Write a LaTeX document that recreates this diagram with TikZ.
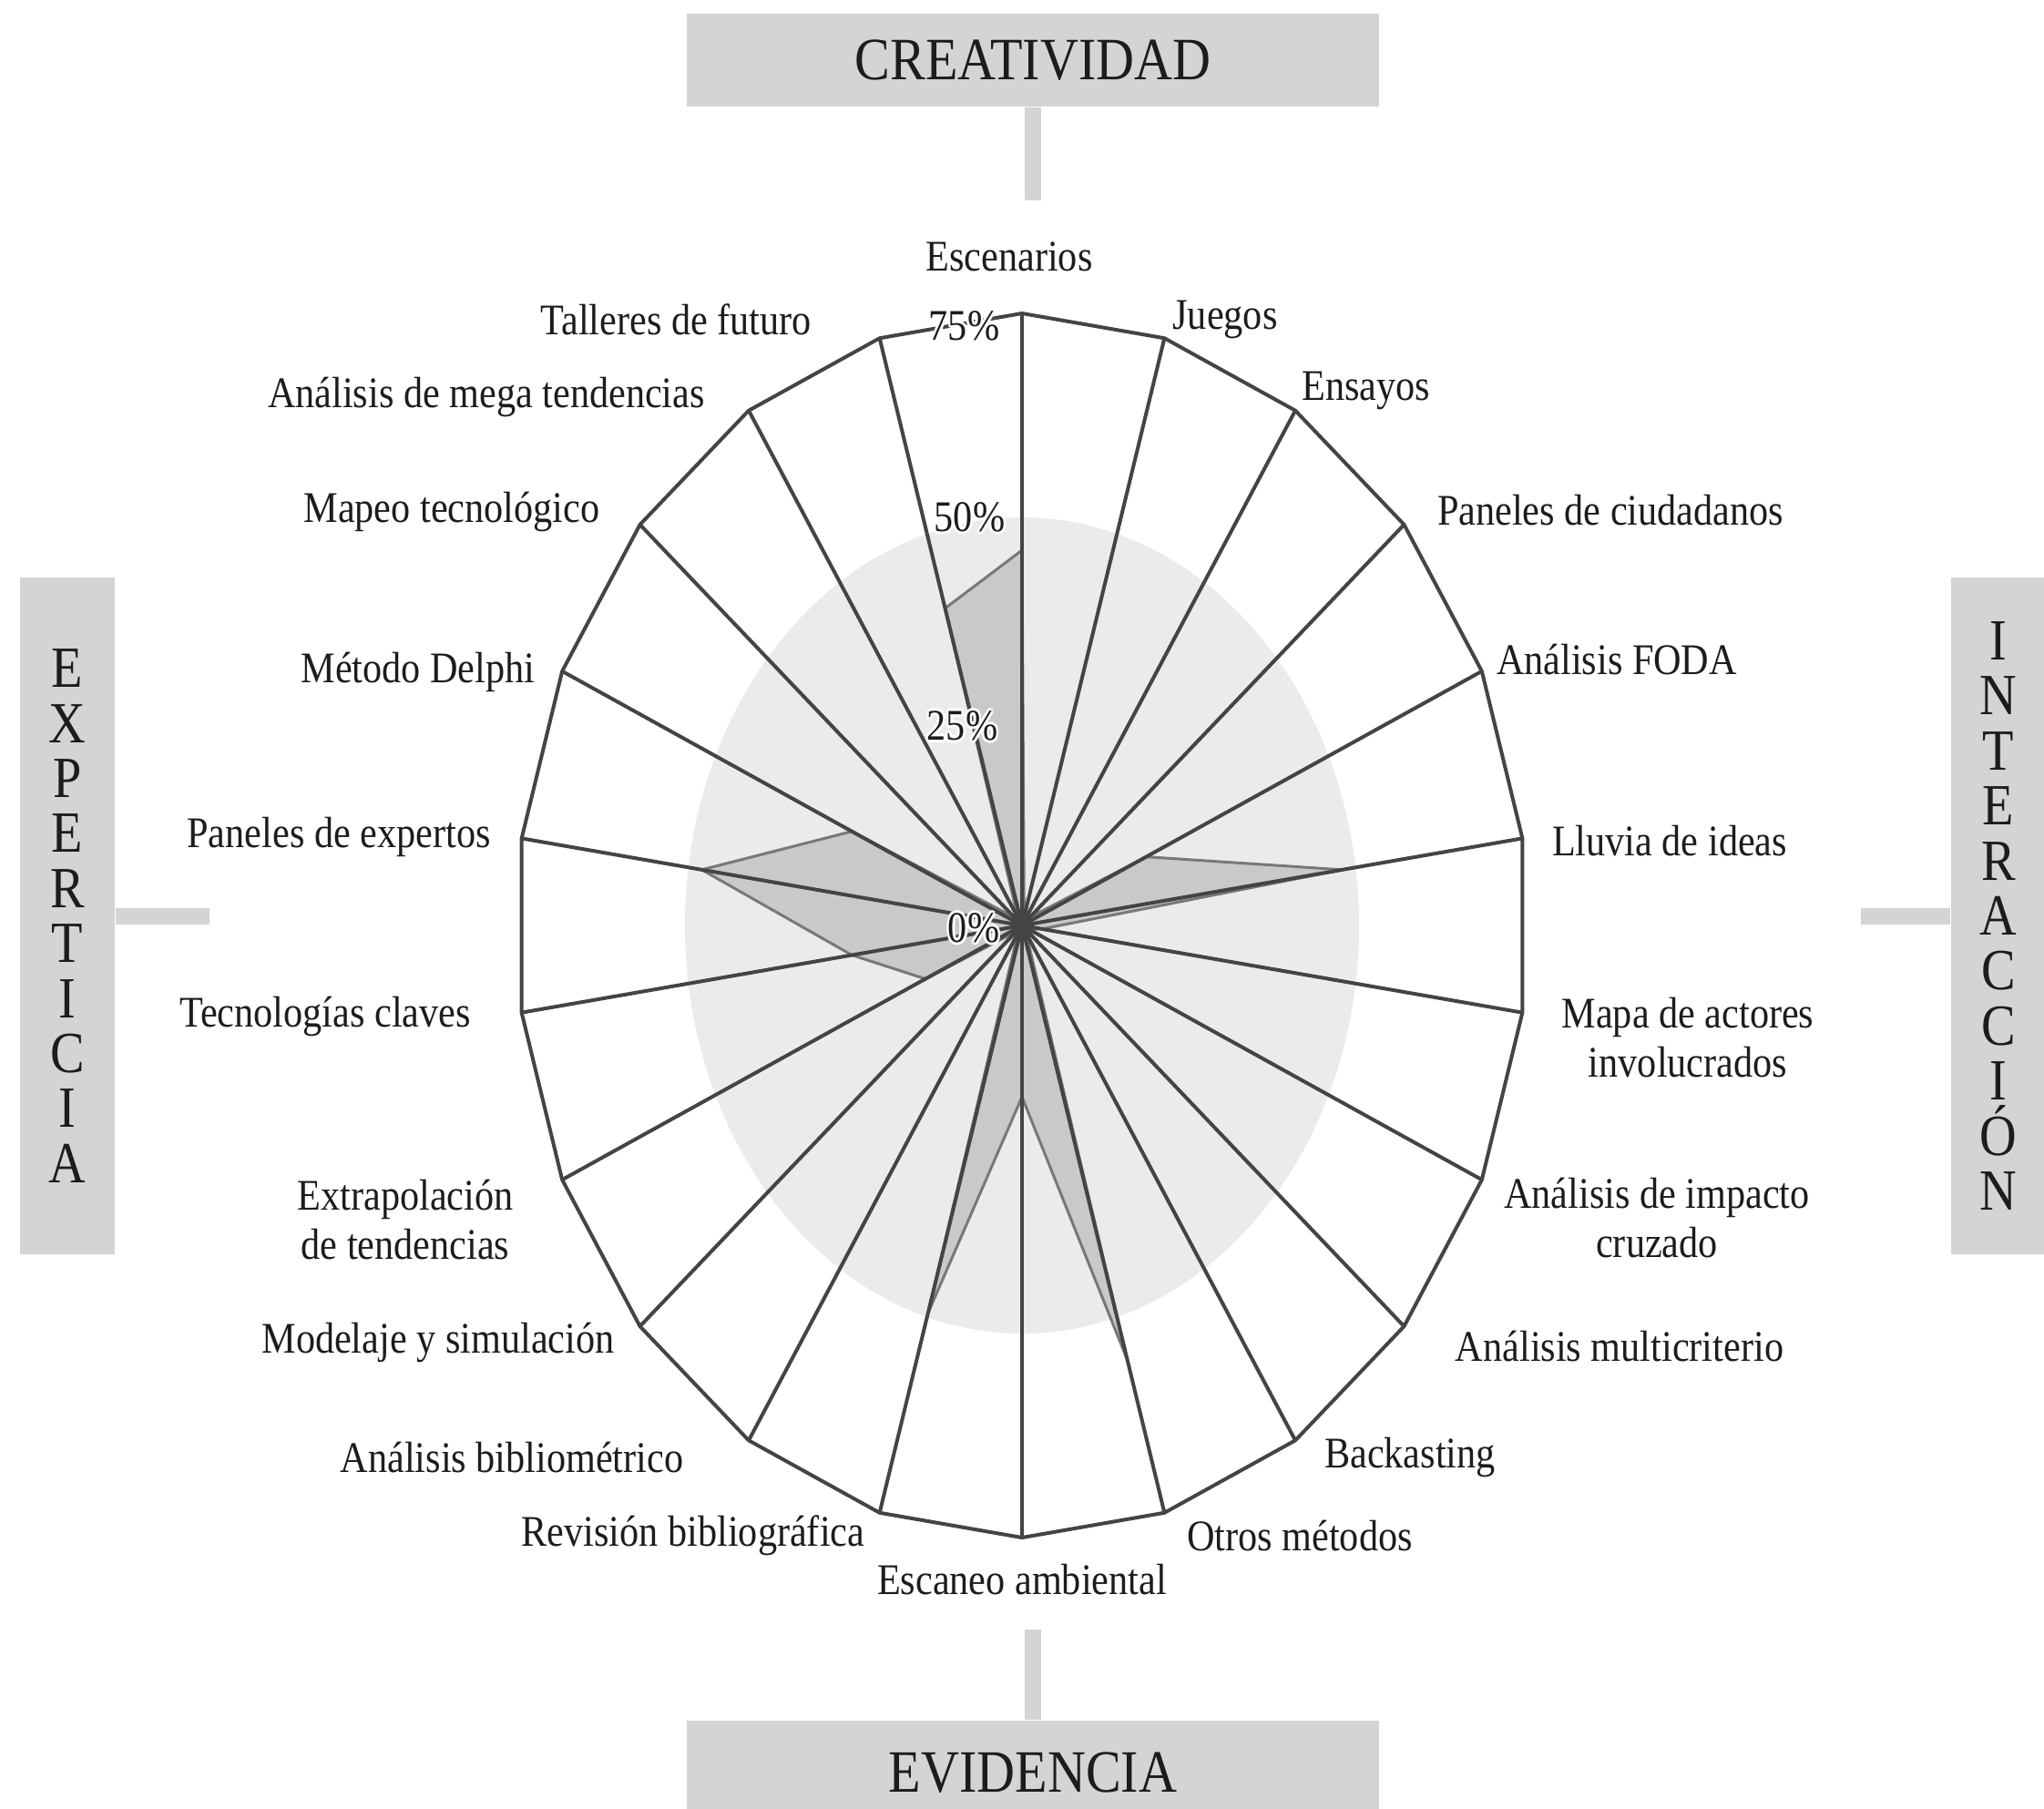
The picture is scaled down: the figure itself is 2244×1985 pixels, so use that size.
\documentclass[tikz,border=0pt]{standalone}
\usepackage{fontspec}
\setmainfont{Liberation Serif}[FakeStretch=0.88]

\definecolor{boxgray}{RGB}{212,212,212}
\definecolor{diskgray}{RGB}{235,235,235}
\definecolor{datagray}{RGB}{201,201,201}
\definecolor{dataedge}{RGB}{120,120,120}
\definecolor{axisgray}{RGB}{68,68,68}
\definecolor{inkgray}{RGB}{28,28,28}

% white halo behind a short text
\newcommand\haloed[1]{{\leavevmode
  \rlap{\color{white}%
    \rlap{\kern0.7pt#1}\rlap{\kern-0.7pt#1}%
    \rlap{\raise0.7pt\hbox{#1}}\rlap{\lower0.7pt\hbox{#1}}%
    \rlap{\kern0.5pt\raise0.5pt\hbox{#1}}\rlap{\kern-0.5pt\raise0.5pt\hbox{#1}}%
    \rlap{\kern0.5pt\lower0.5pt\hbox{#1}}\rlap{\kern-0.5pt\lower0.5pt\hbox{#1}}}%
  #1}}

\begin{document}
\begin{tikzpicture}[x=0.25pt,y=-0.25pt,
  catbox/.style={fill=boxgray, draw=none, inner sep=0pt, text=inkgray},
  hcat/.style={catbox, minimum width=190pt, font=\fontsize{16.5}{18}\selectfont},
  vcat/.style={catbox, minimum width=26pt, minimum height=185.75pt, align=center,
               font=\fontsize{16}{15.1}\selectfont},
  link/.style={draw=boxgray, line width=4.5pt},
  axis/.style={draw=axisgray, line width=1pt, line join=round},
  datapoly/.style={fill=datagray, draw=dataedge, line width=0.75pt, line join=round},
  lab/.style={font=\fontsize{12}{13.5}\selectfont, text=inkgray, align=center, inner sep=0pt},
  tick/.style={font=\fontsize{12}{13.5}\selectfont, text=inkgray, inner sep=0pt, anchor=east}
]
\useasboundingbox (0,0) rectangle (2244,1985);

% ---- category boxes and their links ----
\node[hcat, minimum height=25.5pt] (creat) at (1134,66) {CREATIVIDAD};
\node[hcat, minimum height=28.5pt] (evid) at (1134,1946) {EVIDENCIA};
\node[vcat] (expert) at (74,1005.5) {E\\X\\P\\E\\R\\T\\I\\C\\I\\A};
\node[vcat] (inter) at (2194,1005.5) {I\\N\\T\\E\\R\\A\\C\\C\\I\\Ó\\N};

\coordinate (ctop) at (1134,220);
\coordinate (cbot) at (1134,1789);
\coordinate (cleft) at (230,1005.5);
\coordinate (cright) at (2043,1005.5);
\draw[link] (creat.south) -- (ctop);
\draw[link] (evid.north) -- (cbot);
\draw[link] (expert.east) -- (cleft);
\draw[link] (inter.west) -- (cright);

% ---- radar chart ----
\coordinate (O) at (1122,1016);
\foreach \i in {0,...,21}{
  \coordinate (v\i) at ({1122+555*sin(\i*360/22)},{1016-672*cos(\i*360/22)});
}

% 50 % disk
\fill[diskgray] (O) ellipse [x radius=92.5pt, y radius=112pt];

% data values as fractions of the outer ring (75 %)
\foreach \i/\f in {0/0.613, 1/0.015, 2/0.015, 3/0.02, 4/0.27, 5/0.64, 6/0.04,
                   7/0.015, 8/0.015, 9/0.015, 10/0.74, 11/0.28, 12/0.66, 13/0.015,
                   14/0.015, 15/0.21, 16/0.34, 17/0.64, 18/0.37, 19/0.02, 20/0.015,
                   21/0.54}{
  \coordinate (d\i) at ({1122+555*\f*sin(\i*360/22)},{1016-672*\f*cos(\i*360/22)});
}
\path[datapoly] (d0) \foreach \i in {1,...,21}{ -- (d\i)} -- cycle;

% spokes and outer ring
\foreach \i in {0,...,21}{ \draw[axis] (O) -- (v\i); }
\draw[axis] (v0) \foreach \i in {1,...,21}{ -- (v\i)} -- cycle;

% scale labels
\node[tick] (t75) at (1098,358) {\haloed{75\%}};
\node[tick] (t50) at (1104,568) {\haloed{50\%}};
\node[tick] (t25) at (1096,797) {\haloed{25\%}};
\node[tick] (t0)  at (1098,1019) {\haloed{0\%}};

% method labels
\node[lab] (l0)  at (1108,282)  {Escenarios};
\node[lab] (l1)  at (1345,351)  {Juegos};
\node[lab] (l2)  at (1500,429)  {Ensayos};
\node[lab] (l3)  at (1768,560)  {Paneles de ciudadanos};
\node[lab] (l4)  at (1775,724)  {Análisis FODA};
\node[lab] (l5)  at (1833,923)  {Lluvia de ideas};
\node[lab] (l6)  at (1853,1139) {Mapa de actores\\involucrados};
\node[lab] (l7)  at (1819,1337) {Análisis de impacto\\cruzado};
\node[lab] (l8)  at (1778,1478) {Análisis multicriterio};
\node[lab] (l9)  at (1548,1600) {Backasting};
\node[lab] (l10) at (1427,1686) {Otros métodos};
\node[lab] (l11) at (1122,1734) {Escaneo ambiental};
\node[lab] (l12) at (761,1686)  {Revisión bibliográfica};
\node[lab] (l13) at (562,1600)  {Análisis bibliométrico};
\node[lab] (l14) at (481,1474)  {Modelaje y simulación};
\node[lab] (l15) at (445,1339)  {Extrapolación\\de tendencias};
\node[lab] (l16) at (357,1116)  {Tecnologías claves};
\node[lab] (l17) at (372,919)   {Paneles de expertos};
\node[lab] (l18) at (459,738)   {Método Delphi};
\node[lab] (l19) at (496,562)   {Mapeo tecnológico};
\node[lab] (l20) at (534,436)   {Análisis de mega tendencias};
\node[lab] (l21) at (742,351)   {Talleres de futuro};
\end{tikzpicture}
\end{document}
